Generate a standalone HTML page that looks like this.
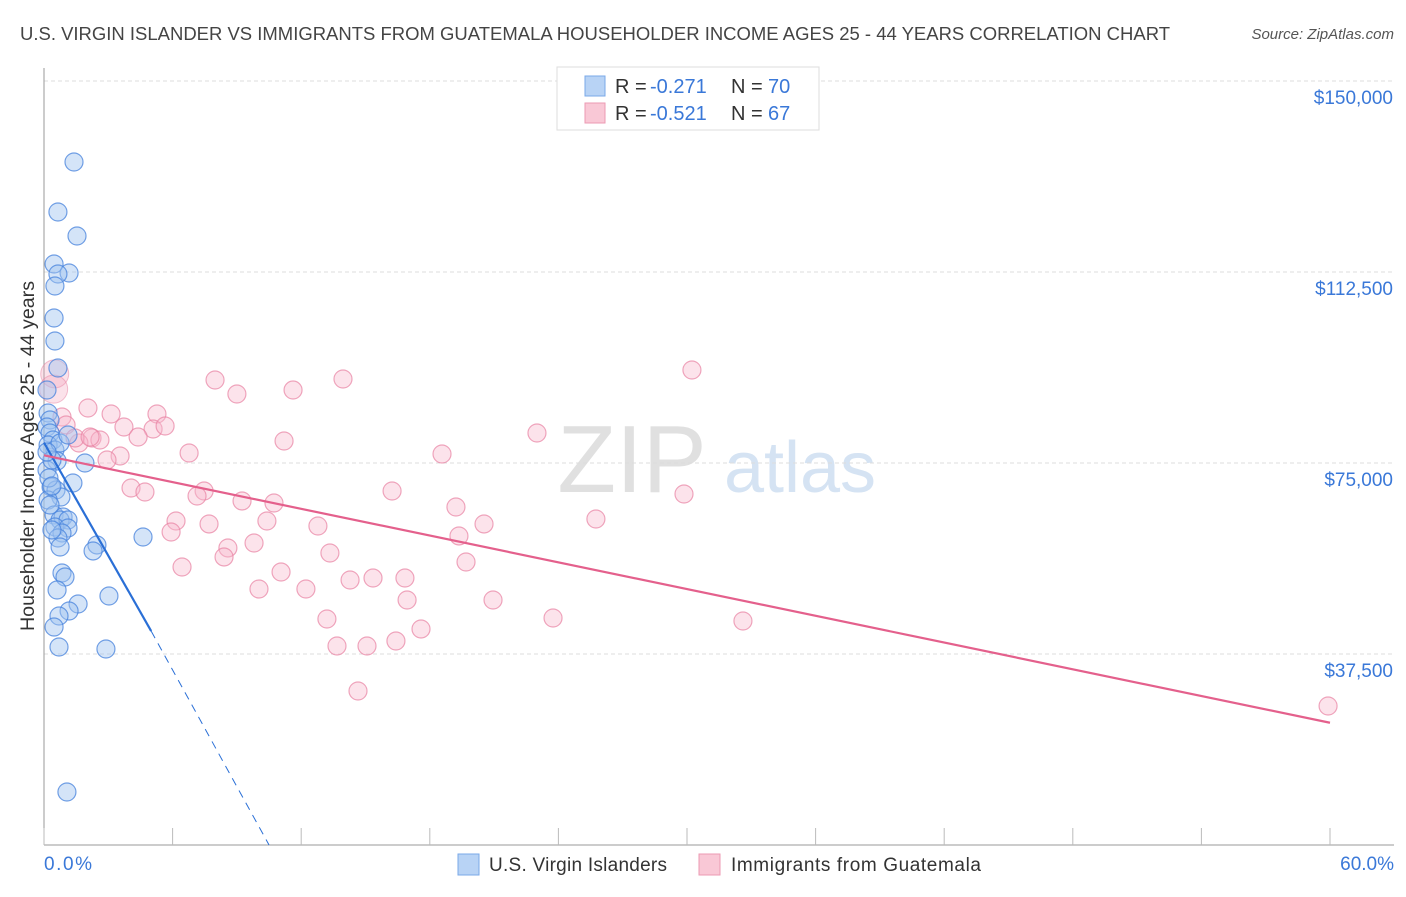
<!DOCTYPE html>
<html><head><meta charset="utf-8"><style>
body{margin:0;background:#fff;font-family:"Liberation Sans",sans-serif;}
svg text{font-family:"Liberation Sans",sans-serif;}
</style></head><body>
<svg width="1406" height="892" viewBox="0 0 1406 892">
<text x="20" y="40" font-size="18" fill="#444" textLength="1150" lengthAdjust="spacingAndGlyphs">U.S. VIRGIN ISLANDER VS IMMIGRANTS FROM GUATEMALA HOUSEHOLDER INCOME AGES 25 - 44 YEARS CORRELATION CHART</text>
<text x="1394" y="39" font-size="15" fill="#555" text-anchor="end" font-style="italic">Source: ZipAtlas.com</text>
<g><text x="632" y="492" font-size="96" fill="#e0e0e0" text-anchor="middle" font-family="Liberation Serif">ZIP</text><text x="800" y="492" font-size="72" fill="#d5e3f3" text-anchor="middle">atlas</text></g>
<g id="grid"></g>
<line x1="44" y1="68" x2="44" y2="845" stroke="#999"/>
<line x1="44" y1="845" x2="1394" y2="845" stroke="#999"/>
<g id="xt"></g>
<g id="pts"></g>
<g id="lines"></g>
<text x="34" y="456" font-size="19" fill="#333" text-anchor="middle" transform="rotate(-90 34 456)" textLength="350" lengthAdjust="spacingAndGlyphs">Householder Income Ages 25 - 44 years</text>
<text x="44" y="870" font-size="19" fill="#3a78d8" textLength="48">0.0%</text>
<text x="1394" y="870" font-size="19" fill="#3a78d8" text-anchor="end">60.0%</text>
<g>
<rect x="557" y="67" width="262" height="63" fill="#fff" stroke="#ddd"/>
<rect x="585" y="76" width="20" height="20" fill="#b8d3f5" stroke="#7aa8e8"/>
<rect x="585" y="103" width="20" height="20" fill="#f9c8d6" stroke="#ec9ab3"/>
<text x="615" y="93" font-size="20" fill="#333">R =</text><text x="650" y="93" font-size="20" fill="#3a78d8">-0.271</text>
<text x="731" y="93" font-size="20" fill="#333">N =</text><text x="768" y="93" font-size="20" fill="#3a78d8">70</text>
<text x="615" y="120" font-size="20" fill="#333">R =</text><text x="650" y="120" font-size="20" fill="#3a78d8">-0.521</text>
<text x="731" y="120" font-size="20" fill="#333">N =</text><text x="768" y="120" font-size="20" fill="#3a78d8">67</text>
</g>
<g>
<rect x="458" y="854" width="21" height="21" fill="#b8d3f5" stroke="#7aa8e8"/>
<text x="489" y="871" font-size="19" fill="#333" textLength="178">U.S. Virgin Islanders</text>
<rect x="699" y="854" width="21" height="21" fill="#f9c8d6" stroke="#ec9ab3"/>
<text x="731" y="871" font-size="19" fill="#333" textLength="250">Immigrants from Guatemala</text>
</g>
</svg>
<script>
const yTicks=[37500,75000,112500,150000];
const yTickLabels=["$37,500","$75,000","$112,500","$150,000"];
const xTicks=[0,6,12,18,24,30,36,42,48,54,60];
const bluePx=[[74,162],[58,212],[77,236],[54,264],[69,273],[58,274],[55,286],[54,318],[55,341],[58,368],[47,390],[48,413],[50,420],[47,427],[50,433],[53,440],[48,445],[55,450],[60,443],[68,435],[57,461],[47,470],[85,463],[73,483],[51,487],[56,490],[61,497],[48,500],[54,515],[63,517],[60,520],[68,520],[55,527],[68,528],[62,533],[58,538],[143,537],[97,545],[60,547],[93,551],[62,573],[65,577],[57,590],[78,604],[69,611],[59,616],[109,596],[54,627],[59,647],[106,649],[67,792],[52,460],[49,478],[50,505],[52,530],[47,452],[52,486]];
const pinkPx=[[88,408],[62,417],[111,414],[157,414],[66,425],[124,427],[153,429],[165,426],[92,438],[100,440],[138,437],[79,443],[120,456],[107,460],[189,453],[284,441],[131,488],[145,492],[204,491],[197,496],[242,501],[274,503],[176,521],[171,532],[209,524],[267,521],[228,548],[254,543],[224,557],[182,567],[281,572],[318,526],[330,553],[259,589],[306,589],[350,580],[373,578],[405,578],[407,600],[327,619],[337,646],[367,646],[396,641],[421,629],[358,691],[215,380],[237,394],[293,390],[343,379],[442,454],[392,491],[456,507],[459,536],[484,524],[466,562],[493,600],[537,433],[596,519],[553,618],[684,494],[692,370],[743,621],[1328,706],[75,438],[90,437]];
const blueX=bluePx.map(p=>+((p[0]-44)/21.433).toFixed(2));
const blueY=bluePx.map(p=>Math.round((845-p[1])*37500/191));
const pinkX=pinkPx.map(p=>+((p[0]-44)/21.433).toFixed(2));
const pinkY=pinkPx.map(p=>Math.round((845-p[1])*37500/191));
const pinkBigX=[0.5,0.45];const pinkBigY=[92500,89500];
const blueTrend=[[0,79000],[5,42000],[10.5,0]];
const pinkTrend=[[0,76500],[60,24000]];
const X=v=>44+v*1286/60, Y=v=>845-v*191/37500;
const NS="http://www.w3.org/2000/svg";
function mk(t,a,p){const e=document.createElementNS(NS,t);for(const k in a)e.setAttribute(k,a[k]);p.appendChild(e);return e;}
const grid=document.getElementById('grid');
yTicks.forEach((v,i)=>{
 const l=mk('line',{x1:44,x2:1394,y1:Y(v),y2:Y(v),stroke:'#ddd','stroke-dasharray':'4,3'},grid);
 
 
 const t=mk('text',{x:1393,y:Y(v)+23,'font-size':19,fill:'#3a78d8','text-anchor':'end'},grid);
 t.textContent=yTickLabels[i];
 
 
});
const xt=document.getElementById('xt');
xTicks.forEach(v=>{const l=mk('line',{x1:X(v),x2:X(v),y1:828,y2:845,stroke:'#bbb'},xt);
 
 });
const pts=document.getElementById('pts');
pinkBigX.forEach((x,i)=>{const c=mk('circle',{cx:X(x),cy:Y(pinkBigY[i]),r:14,fill:'rgba(243,160,186,0.3)',stroke:'rgba(232,130,162,0.5)'},pts);
 
 });
pinkX.forEach((x,i)=>{const c=mk('circle',{cx:X(x),cy:Y(pinkY[i]),r:9,fill:'rgba(248,185,205,0.4)',stroke:'rgba(232,130,162,0.7)','stroke-width':1.2},pts);
 
 });
blueX.forEach((x,i)=>{const c=mk('circle',{cx:X(x),cy:Y(blueY[i]),r:9,fill:'rgba(160,195,240,0.45)',stroke:'rgba(70,130,220,0.75)','stroke-width':1.2},pts);
 
 });
const lines=document.getElementById('lines');
let l=mk('line',{x1:X(blueTrend[0][0]),y1:Y(blueTrend[0][1]),x2:X(blueTrend[1][0]),y2:Y(blueTrend[1][1]),stroke:'#2a6fd6','stroke-width':2.2},lines);


l=mk('line',{x1:X(blueTrend[1][0]),y1:Y(blueTrend[1][1]),x2:X(blueTrend[2][0]),y2:Y(blueTrend[2][1]),stroke:'#2a6fd6','stroke-width':1,'stroke-dasharray':'8,6'},lines);


l=mk('line',{x1:X(pinkTrend[0][0]),y1:Y(pinkTrend[0][1]),x2:X(pinkTrend[1][0]),y2:Y(pinkTrend[1][1]),stroke:'#e4608c','stroke-width':2.2},lines);


</script>
</body></html>
